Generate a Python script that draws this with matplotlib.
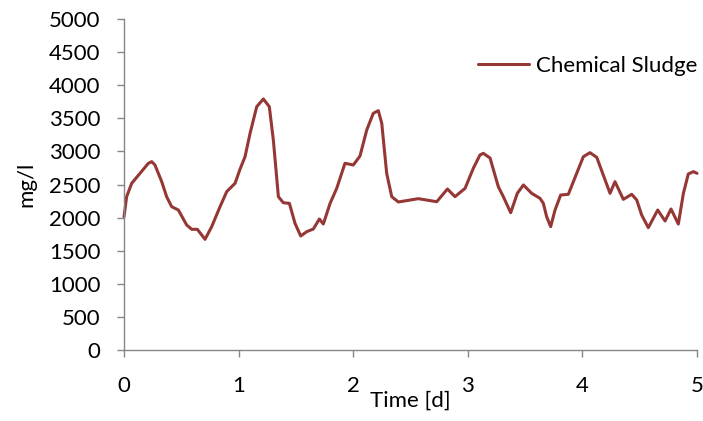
import matplotlib
matplotlib.use("Agg")
import matplotlib.pyplot as plt

# values
time_d = [0.0, 0.023, 0.067, 0.14, 0.212, 0.242, 0.27, 0.329, 0.372, 0.416,
          0.474, 0.547, 0.591, 0.64, 0.707, 0.765, 0.838, 0.896, 0.969, 1.012,
          1.056, 1.1, 1.158, 1.216, 1.268, 1.303, 1.347, 1.39, 1.443, 1.492,
          1.542, 1.594, 1.652, 1.705, 1.739, 1.798, 1.856, 1.928, 2.001, 2.059,
          2.118, 2.175, 2.219, 2.249, 2.292, 2.336, 2.394, 2.568, 2.729, 2.822,
          2.888, 2.976, 3.048, 3.106, 3.135, 3.194, 3.266, 3.31, 3.374, 3.432,
          3.485, 3.557, 3.63, 3.659, 3.688, 3.723, 3.761, 3.81, 3.877, 3.95,
          4.008, 4.066, 4.125, 4.182, 4.241, 4.284, 4.357, 4.43, 4.474, 4.517,
          4.575, 4.657, 4.721, 4.773, 4.837, 4.881, 4.924, 4.968, 5.0]
sludge = [2013, 2316, 2518, 2669, 2820, 2845, 2795, 2543, 2316, 2165,
          2115, 1888, 1823, 1823, 1672, 1863, 2165, 2392, 2518, 2730,
          2920, 3273, 3675, 3792, 3675, 3172, 2316, 2225, 2215, 1914,
          1722, 1787, 1828, 1979, 1903, 2215, 2442, 2820, 2795, 2930,
          3323, 3576, 3615, 3425, 2669, 2316, 2236, 2286, 2240, 2432,
          2316, 2442, 2745, 2946, 2971, 2900, 2467, 2316, 2074, 2367,
          2493, 2367, 2291, 2215, 2013, 1863, 2115, 2341, 2352, 2669,
          2920, 2981, 2910, 2643, 2367, 2543, 2276, 2352, 2266, 2039,
          1848, 2115, 1949, 2130, 1903, 2367, 2659, 2694, 2669]

grey = "#868686"
red = "#953735"

plt.rcParams["font.family"] = ["Lato", "DejaVu Sans"]

fig = plt.figure(figsize=(7.03, 4.21), dpi=100)
ax = fig.add_axes([0.1764, 0.1686, 0.8151, 0.7863])

ax.plot(time_d, sludge, color=red, lw=2.2, label="Chemical Sludge",
        solid_joinstyle="round", solid_capstyle="round", clip_on=False)

ax.set_xlim(0, 5)
ax.set_ylim(0, 5000)
ax.set_xticks(range(0, 6))
ax.set_yticks(range(0, 5001, 500))

for s in ["top", "right"]:
    ax.spines[s].set_visible(False)
for s in ["left", "bottom"]:
    ax.spines[s].set_color(grey)
    ax.spines[s].set_linewidth(1.0)

ax.tick_params(axis="both", direction="out", length=5, width=1.0, color=grey,
               labelsize=16, labelcolor="black")
ax.tick_params(axis="x", pad=14)
ax.tick_params(axis="y", pad=12)

ax.set_xlabel("Time [d]", fontsize=16, labelpad=-4)
ax.set_ylabel("mg/l", fontsize=16, labelpad=9)

ax.legend(loc="upper right", frameon=False, fontsize=16, handlelength=2.3,
          handletextpad=0.3, borderaxespad=0, bbox_to_anchor=(1.016, 0.915))

fig.savefig("out.png", dpi=100)
